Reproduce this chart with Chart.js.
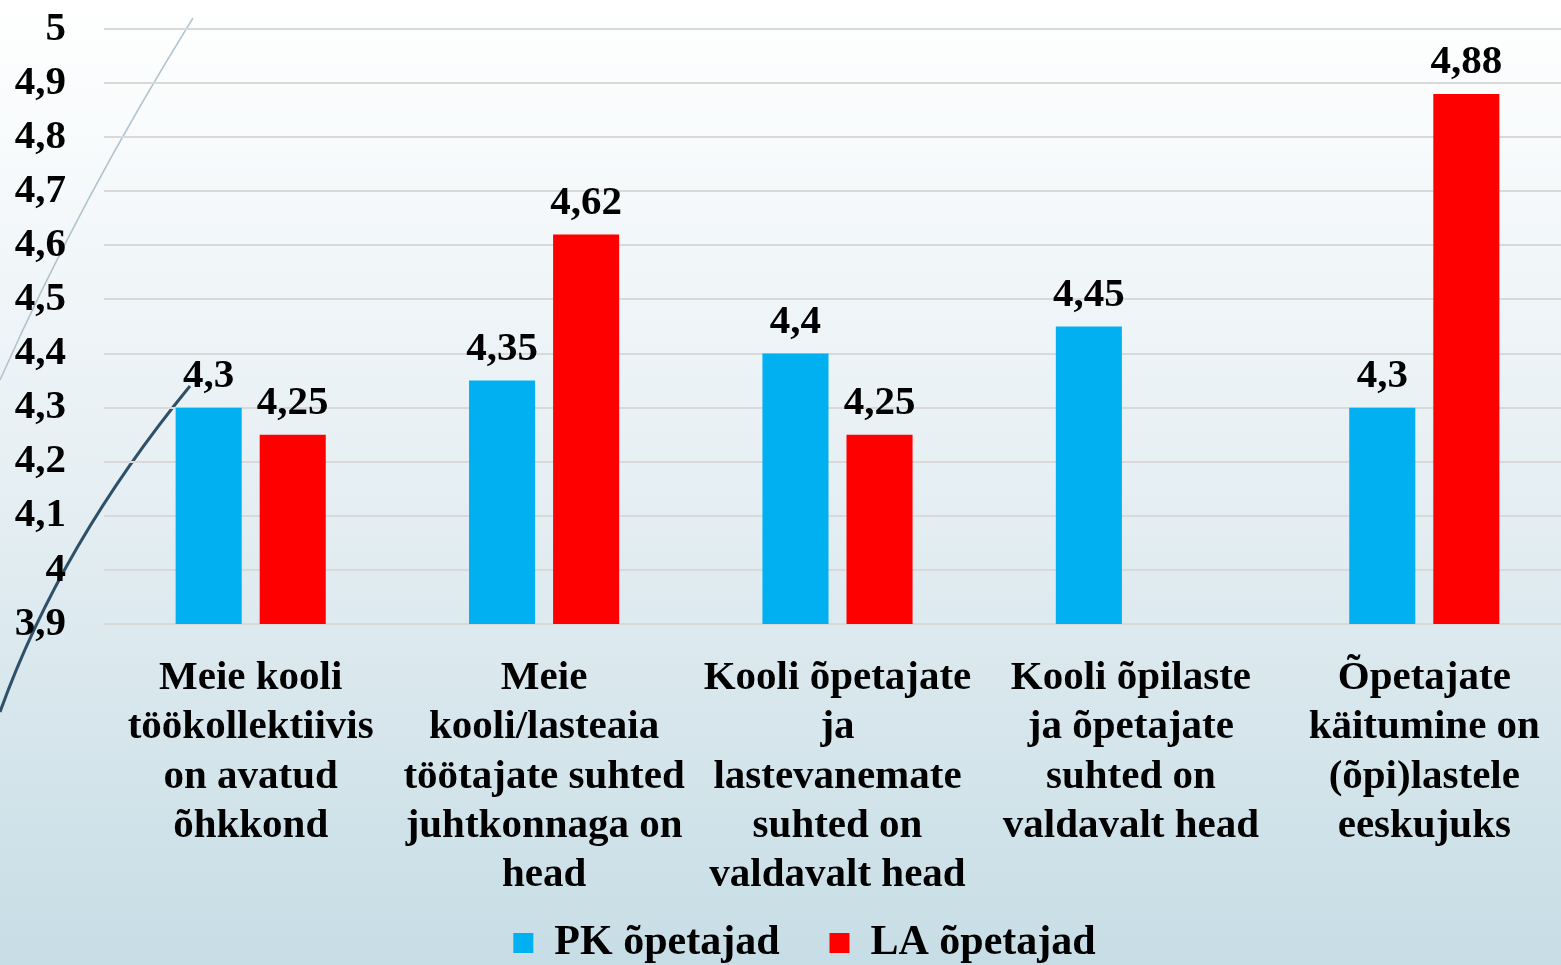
<!DOCTYPE html>
<html>
<head>
<meta charset="utf-8">
<script src="https://cdn.jsdelivr.net/npm/chart.js@4/dist/chart.umd.min.js"></script>
<style>
  html, body { margin: 0; padding: 0; width: 1561px; height: 965px; overflow: hidden; }
  #wrap { position: relative; width: 1561px; height: 965px; overflow: hidden; }
  canvas { display: block; }
</style>
</head>
<body>
<div id="wrap"><canvas id="c" width="1571" height="965"></canvas></div>
<script>
const categories = [
  ["Meie kooli", "töökollektiivis", "on avatud", "õhkkond"],
  ["Meie", "kooli/lasteaia", "töötajate suhted", "juhtkonnaga on", "head"],
  ["Kooli õpetajate", "ja", "lastevanemate", "suhted on", "valdavalt head"],
  ["Kooli õpilaste", "ja õpetajate", "suhted on", "valdavalt head"],
  ["Õpetajate", "käitumine on", "(õpi)lastele", "eeskujuks"]
];
const seriesNames = ["PK õpetajad", "LA õpetajad"];
const pkValues = [4.3, 4.35, 4.4, 4.45, 4.3];
const laValues = [4.25, 4.62, 4.25, null, 4.88];
const yTicks = [3.9, 4.0, 4.1, 4.2, 4.3, 4.4, 4.5, 4.6, 4.7, 4.8, 4.9, 5.0];
const yTickLabels = ["3,9", "4", "4,1", "4,2", "4,3", "4,4", "4,5", "4,6", "4,7", "4,8", "4,9", "5"];

const FONT = "'Liberation Serif', 'Times New Roman', serif";
const fmt = v => Number(Number(v).toFixed(2)).toString().replace('.', ',');

const bgPlugin = {
  id: 'bg',
  beforeDraw(chart) {
    const ctx = chart.ctx, w = chart.width, h = chart.height;
    ctx.save();
    const g = ctx.createLinearGradient(0, 0, 0, h);
    g.addColorStop(0, '#ffffff');
    g.addColorStop(0.5, '#e6eff3');
    g.addColorStop(1, '#c7dde5');
    ctx.fillStyle = g;
    ctx.fillRect(0, 0, w, h);
    // decorative slide curves
    ctx.strokeStyle = 'rgba(170,190,200,0.9)';
    ctx.lineWidth = 1.5;
    ctx.beginPath();
    ctx.moveTo(0, 380);
    ctx.quadraticCurveTo(80, 200, 193, 18);
    ctx.stroke();
    ctx.strokeStyle = '#2e5068';
    ctx.lineWidth = 3;
    ctx.beginPath();
    ctx.moveTo(0, 712);
    ctx.quadraticCurveTo(60, 545, 190, 386);
    ctx.stroke();
    ctx.restore();
  }
};

const legendShift = {
  id: 'legendShift',
  afterLayout(chart) {
    if (chart.legend) { chart.legend.left += 19; chart.legend.right += 19; }
  }
};

const labelPlugin = {
  id: 'vals',
  afterDatasetsDraw(chart) {
    const ctx = chart.ctx;
    ctx.save();
    ctx.font = "bold 41px " + FONT;
    ctx.fillStyle = '#000';
    ctx.textAlign = 'center';
    ctx.textBaseline = 'alphabetic';
    chart.data.datasets.forEach((ds, i) => {
      const meta = chart.getDatasetMeta(i);
      meta.data.forEach((bar, j) => {
        const v = ds.data[j];
        if (v === null || v === undefined) return;
        ctx.fillText(fmt(v), bar.x, bar.y - 21);
      });
    });
    ctx.restore();
  }
};

new Chart(document.getElementById('c'), {
  type: 'bar',
  data: {
    labels: categories,
    datasets: [
      { label: seriesNames[0], data: pkValues, backgroundColor: '#00b0f0', borderWidth: 0 },
      { label: seriesNames[1], data: laValues, backgroundColor: '#ff0000', borderWidth: 0 }
    ]
  },
  options: {
    responsive: false,
    animation: false,
    devicePixelRatio: 1,
    categoryPercentage: 0.573,
    barPercentage: 0.786,
    layout: { padding: { top: 29, right: 0, bottom: -9, left: 0 } },
    plugins: {
      legend: {
        position: 'bottom',
        labels: {
          font: { family: FONT, size: 42, weight: 'bold' },
          color: '#000',
          boxWidth: 20,
          boxHeight: 20,
          padding: 50
        }
      },
      tooltip: { enabled: false }
    },
    scales: {
      x: {
        afterFit(scale) {
          scale.height = 248;
          scale._computeLabelArea = () => null;
        },
        grid: { display: false, drawTicks: false },
        border: { display: false },
        ticks: {
          font: { family: FONT, size: 41, weight: 'bold', lineHeight: 1.2 },
          color: '#000',
          padding: 30,
          maxRotation: 0,
          autoSkip: false
        }
      },
      y: {
        min: yTicks[0],
        max: yTicks[yTicks.length - 1],
        afterFit(scale) { scale.width = 104; scale.paddingTop = 0; scale.paddingBottom = 0; },
        afterBuildTicks(scale) { scale.ticks = yTicks.map(v => ({ value: v })); },
        grid: { color: '#d9d9d9', lineWidth: 2, drawTicks: false },
        border: { display: false },
        ticks: {
          autoSkip: false,
          font: { family: FONT, size: 41, weight: 'bold' },
          color: '#000',
          padding: 38,
          callback: (v, i) => yTickLabels[i]
        }
      }
    }
  },
  plugins: [bgPlugin, legendShift, labelPlugin]
});
</script>
</body>
</html>
